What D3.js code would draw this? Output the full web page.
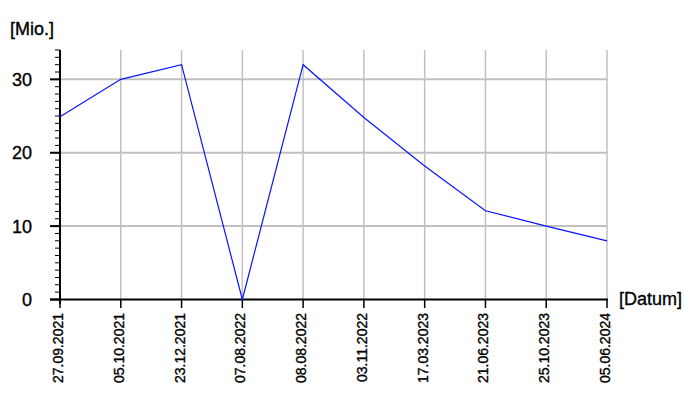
<!DOCTYPE html>
<html><head><meta charset="utf-8">
<script src="https://cdn.jsdelivr.net/npm/d3@7"></script>
<style>body{margin:0;background:#fff}svg{display:block}text{font-family:Arial,"Liberation Sans",sans-serif;fill:#000;stroke:#000;stroke-width:0.35px}</style>
</head><body>
<svg id="c" width="700" height="400"></svg>
<script>
const dates = ["27.09.2021","05.10.2021","23.12.2021","07.08.2022","08.08.2022","03.11.2022","17.03.2023","21.06.2023","25.10.2023","05.06.2024"];
const values = [24.9, 30, 32, 0, 32, 24.8, 18.2, 12.1, 10, 8];
const yTicks = [0, 10, 20, 30];
const yMinorTicks = d3.range(0, 35, 1);
const yLabel = "[Mio.]";
const xLabel = "[Datum]";

const svg = d3.select("#c");
const x = d3.scalePoint().domain(dates).range([60, 607]);
const y = d3.scaleLinear().domain([0, 34]).range([299.5, 50]);

// grid
svg.append("g").selectAll("line").data(dates).join("line")
  .attr("x1", d => x(d)).attr("x2", d => x(d)).attr("y1", y(34)).attr("y2", y(0))
  .attr("stroke", "#c0c0c0").attr("stroke-width", 1.5);
svg.append("g").selectAll("line").data(yTicks.filter(d => d > 0)).join("line")
  .attr("x1", 60).attr("x2", 607).attr("y1", d => y(d)).attr("y2", d => y(d))
  .attr("stroke", "#c0c0c0").attr("stroke-width", 2);

// y minor ticks
svg.append("g").selectAll("line").data(yMinorTicks).join("line")
  .attr("x1", 55).attr("x2", 60).attr("y1", d => y(d)).attr("y2", d => y(d))
  .attr("stroke", "#000").attr("stroke-width", 1);
// y major ticks
svg.append("g").selectAll("line").data(yTicks).join("line")
  .attr("x1", 50).attr("x2", 60).attr("y1", d => y(d)).attr("y2", d => y(d))
  .attr("stroke", "#000").attr("stroke-width", 2);
svg.append("g").selectAll("text").data(yTicks).join("text")
  .attr("x", 32).attr("y", d => y(d)).attr("dy", "0.36em")
  .attr("text-anchor", "end").attr("font-size", 18)
  .text(d => d);

// x ticks
svg.append("g").selectAll("line").data(dates).join("line")
  .attr("x1", d => x(d)).attr("x2", d => x(d)).attr("y1", y(0)).attr("y2", 308)
  .attr("stroke", "#000").attr("stroke-width", 1.5);
svg.append("g").selectAll("text").data(dates).join("text")
  .attr("transform", d => `translate(${x(d) + 3},313) rotate(-90)`)
  .attr("text-anchor", "end").attr("font-size", 14)
  .text(d => d);

// axes lines
svg.append("line").attr("x1", 60).attr("x2", 60).attr("y1", 50).attr("y2", 304)
  .attr("stroke", "#000").attr("stroke-width", 2);
svg.append("line").attr("x1", 50).attr("x2", 608).attr("y1", y(0)).attr("y2", y(0))
  .attr("stroke", "#000").attr("stroke-width", 2);

// data line
svg.append("path").datum(values)
  .attr("d", d3.line().x((d, i) => x(dates[i])).y(d => y(d)))
  .attr("fill", "none").attr("stroke", "#0a14ff").attr("stroke-width", 1.2);

// axis labels
svg.append("text").attr("x", 10).attr("y", 35).attr("font-size", 18).text(yLabel);
svg.append("text").attr("x", 619).attr("y", 305).attr("font-size", 18).text(xLabel);
</script>
</body></html>
